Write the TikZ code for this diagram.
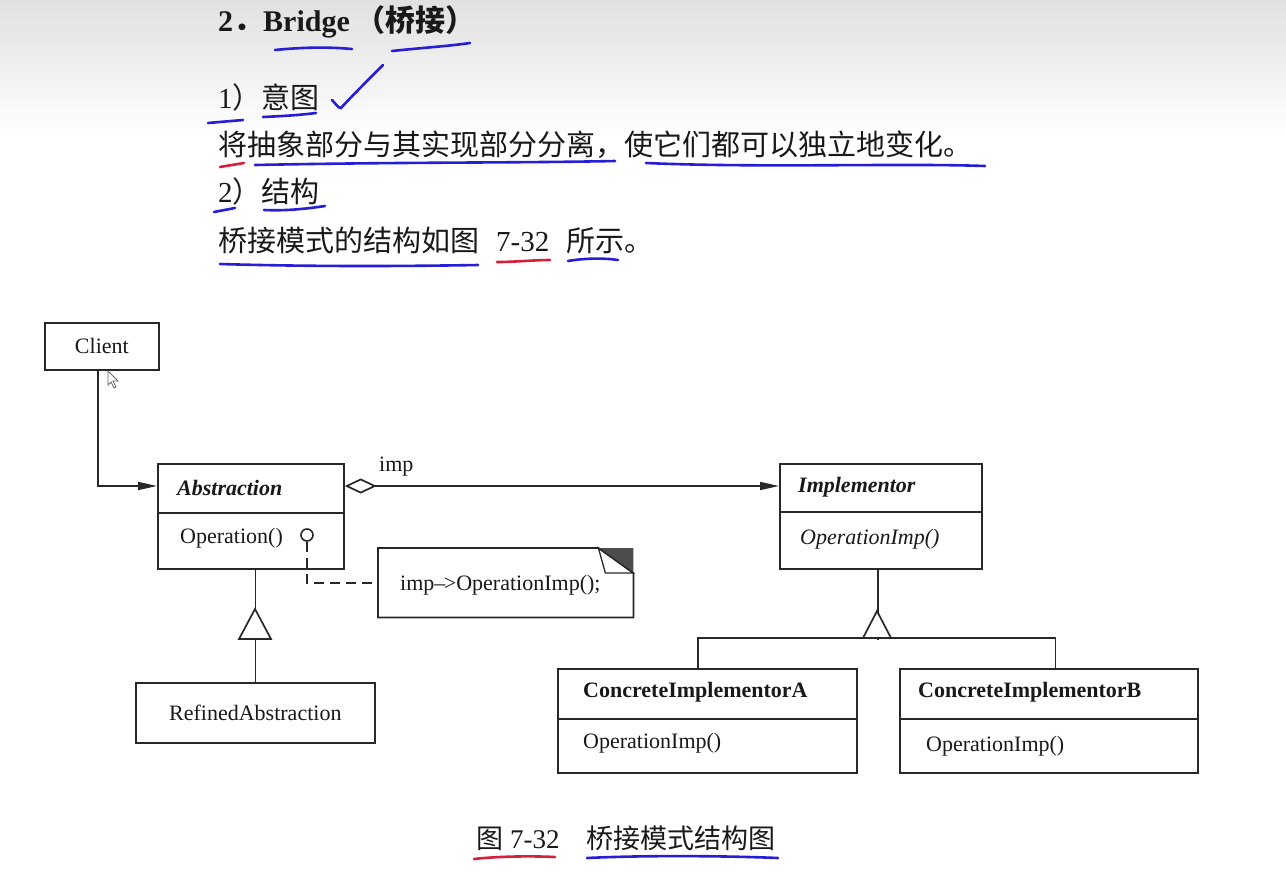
\documentclass[tikz,border=0pt]{standalone}
\usepackage{fontspec}
\setmainfont{Liberation Serif}
\newfontfamily\cjk{Noto Sans CJK SC}
\usetikzlibrary{arrows.meta}
\definecolor{inkblue}{RGB}{38,30,215}
\definecolor{inkred}{RGB}{215,30,60}
\definecolor{txt}{RGB}{25,25,25}
\definecolor{ln}{RGB}{40,40,40}
\tikzset{
  hdr/.style={anchor=west, inner sep=0pt, text=txt, font=\fontsize{29}{34}\selectfont},
  umlbox/.style={draw=ln, line width=1.7pt, anchor=north west, inner sep=0pt, fill=white},
  umltxt/.style={anchor=west, inner sep=0pt, text=txt, font=\fontsize{22}{26}\selectfont},
  conn/.style={draw=ln, line width=1.7pt},
  bluepen/.style={draw=inkblue, line width=2.6pt, line cap=round},
  redpen/.style={draw=inkred, line width=2.6pt, line cap=round},
  headtip/.style={-{Triangle[length=19pt,width=8pt]}}
}
\begin{document}
\begin{tikzpicture}[x=1pt,y=-1pt]
\useasboundingbox (0,0) rectangle (1286,892);
\fill[white] (0,0) rectangle (1286,892);
\shade[top color=black!12, bottom color=white] (0,0) rectangle (1286,135);

% header text
\node[hdr, font=\fontsize{30}{34}\selectfont] (t1) at (218,22) {\bfseries 2{\cjk ．}Bridge\hspace{6pt}{\cjk\bfseries （桥接）}};
\node[hdr] (t2) at (218,97) {1{\cjk ）意图}};
\node[hdr] (t3) at (218,145) {\cjk 将抽象部分与其实现部分分离，使它们都可以独立地变化。};
\node[hdr] (t4) at (218,191) {2{\cjk ）结构}};
\node[hdr] (t5) at (218,240) {{\cjk 桥接模式的结构如图}\hspace{17pt}7-32\hspace{17pt}{\cjk 所示。}};

% caption
\node[hdr, font=\fontsize{27}{32}\selectfont] (cap) at (476,838) {{\cjk 图}\hspace{7pt}7-32\hspace{27pt}{\cjk 桥接模式结构图}};

% handwritten marks
\draw[bluepen] (275,50) .. controls (305,47) and (330,47) .. (352,49);
\draw[bluepen] (392,51) .. controls (420,48) and (450,46) .. (470,43);
\draw[bluepen] (332,100) .. controls (336,104) and (338,108) .. (341,108) .. controls (350,98) and (368,80) .. (383,65);
\draw[bluepen] (208,123) -- (243,120);
\draw[bluepen] (263,117) .. controls (285,116) and (300,115) .. (316,113);
\draw[redpen] (220,167) -- (244,163);
\draw[bluepen] (255,165) .. controls (400,162) and (520,163) .. (615,161);
\draw[bluepen] (646,163) .. controls (760,168) and (900,163) .. (985,166);
\draw[bluepen] (214,212) -- (235,208);
\draw[bluepen] (264,210) .. controls (285,211) and (305,209) .. (325,206);
\draw[bluepen] (220,264) .. controls (320,267) and (420,266) .. (478,265);
\draw[redpen] (497,262) .. controls (515,262) and (535,260) .. (550,260);
\draw[bluepen] (568,261) .. controls (585,258) and (605,258) .. (618,260);
\draw[redpen] (474,859) .. controls (500,856) and (535,856) .. (555,857);
\draw[bluepen] (587,858) .. controls (650,855) and (730,856) .. (778,858);

% classes
\node[umlbox, minimum width=114pt, minimum height=47pt] (client) at (44,322) {};
\node[umltxt, anchor=center] (clienttxt) at (client.center) {Client};

\node[umlbox, minimum width=186pt, minimum height=105pt] (abs) at (157,463) {};
\draw[conn] (157,513) -- (343,513);
\node[umltxt] (absname) at (177,488) {\bfseries\itshape Abstraction};
\node[umltxt] (absop) at (180,538) {Operation()};

\node[umlbox, minimum width=202pt, minimum height=105pt] (impl) at (779,463) {};
\draw[conn] (779,512) -- (981,512);
\node[umltxt] (implname) at (798,487) {\bfseries\itshape Implementor};
\node[umltxt] (implop) at (800,539) {\itshape OperationImp()};

\node[umlbox, minimum width=239pt, minimum height=60pt] (refined) at (135,682) {};
\node[umltxt, anchor=center] (refinedtxt) at (refined.center) {RefinedAbstraction};

\node[umlbox, minimum width=299pt, minimum height=104pt] (ca) at (557,668) {};
\draw[conn] (557,719) -- (856,719);
\node[umltxt] (caname) at (583,692) {\bfseries ConcreteImplementorA};
\node[umltxt] (caop) at (583,743) {OperationImp()};

\node[umlbox, minimum width=298pt, minimum height=104pt] (cb) at (899,668) {};
\draw[conn] (899,719) -- (1197,719);
\node[umltxt] (cbname) at (918,692) {\bfseries ConcreteImplementorB};
\node[umltxt] (cbop) at (926,746) {OperationImp()};

% note
\node[inner sep=0pt, minimum width=255pt, minimum height=69pt, anchor=north west] (note) at (378,548) {};
\draw[conn, fill=white] (note.north west) -- ([xshift=-35pt]note.north east) -- ([yshift=-25pt]note.north east) -- (note.south east) -- (note.south west) -- cycle;
\fill[black!70] ([xshift=-35pt]note.north east) -- (note.north east) -- ([yshift=-25pt]note.north east) -- cycle;
\draw[conn, line width=1.3pt] ([xshift=-35pt]note.north east) -- ([xshift=-28pt,yshift=-25pt]note.north east) -- ([yshift=-25pt]note.north east) -- cycle;
\node[umltxt] (notetxt) at (400,585) {imp\textendash\kern-1.5pt>OperationImp();};

% lollipop and dashed link
\node[circle, draw=ln, line width=1.6pt, minimum size=12pt, inner sep=0pt] (lolli) at (307,535) {};
\draw[conn, dash pattern=on 10pt off 6pt] (lolli.south) |- (note.west);

% connectors
\draw[conn, headtip] ([xshift=-4pt]client.south) |- ([yshift=-23pt]abs.north west);
\draw[conn, {Diamond[open,fill=white,length=32pt,width=15pt]}-{Triangle[length=19pt,width=8pt]}] ([yshift=-23pt]abs.north east) -- ([yshift=-23pt]impl.north west);
\node[umltxt] (implabel) at (379,467) {imp};

% generalisation: abstraction
\draw[conn] (refined.north) -- (refined.north |- abs.south);
\draw[conn, fill=white] (255,609) -- (239,639) -- (271,639) -- cycle;

% generalisation: implementor
\draw[conn] ([xshift=-3pt]impl.south) -- ++(0,70);
\draw[conn] ([xshift=-9.5pt]ca.north) -- ++(0,-30) -| ([xshift=6.5pt]cb.north);
\draw[conn, fill=white] (877,611) -- (863,638) -- (891,638) -- cycle;

% mouse cursor
\draw[black!60, line width=0.8pt, fill=white] (108,371) -- (108,385) -- (111,382) -- (114,388) -- (116,387) -- (113,381) -- (118,381) -- cycle;
\end{tikzpicture}
\end{document}
